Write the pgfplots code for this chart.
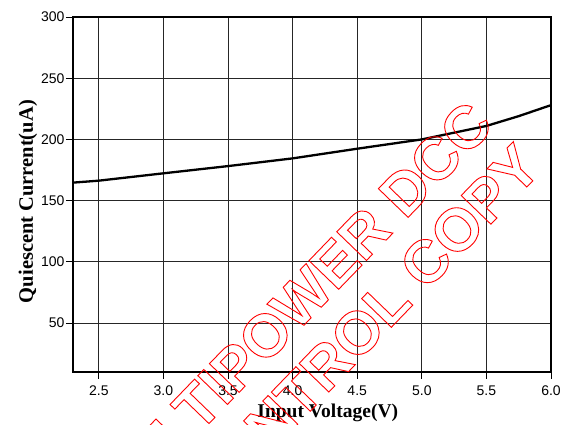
\documentclass[border=0pt]{standalone}
\usepackage{pgfplots}
\pgfplotsset{compat=1.18}
\usepackage{fontspec}
\setmainfont{Liberation Serif}
\newfontfamily\arialfont{Liberation Sans}
\begin{document}
\begin{tikzpicture}[x=1pt,y=1pt]
\useasboundingbox (0,0) rectangle (576,425);
\begin{axis}[
  scale only axis,
  width=478pt, height=355pt,
  at={(73pt,53pt)}, anchor=south west,
  xmin=2.3, xmax=6.0, ymin=10, ymax=300,
  xtick={2.5,3.0,3.5,4.0,4.5,5.0,5.5,6.0},
  ytick={50,100,150,200,250,300},
  xticklabel style={yshift=-3pt, /pgf/number format/fixed,
    /pgf/number format/fixed zerofill, /pgf/number format/precision=1},
  /pgf/number format/assume math mode=true,
  ticklabel style={font=\arialfont\fontsize{14}{14}\selectfont},
  yticklabel style={xshift=2pt},
  tick align=outside, major tick length=7pt,
  tick style={black, line width=0.8pt},
  xtick pos=bottom, ytick pos=left,
  grid=major,
  grid style={black!85, line width=0.8pt},
  axis line style={black, line width=1.4pt},
  xlabel={Input Voltage(V)},
  ylabel={Quiescent Current(uA)},
  xlabel style={font=\fontsize{19.5}{20}\selectfont\bfseries,
                at={(axis description cs:0.533,-0.127)}, anchor=base},
  ylabel style={font=\fontsize{20.5}{21}\selectfont\bfseries,
                at={(axis description cs:-0.0837,0.48)}, anchor=base},
]
\addplot[black, line width=2.3pt] coordinates {
(2.3,164.7) (2.5,166.3) (3.0,172.3) (3.5,178.2) (4.0,184.5) (4.5,192.4)
(5.0,200.0) (5.25,205.5) (5.5,211.0) (5.75,219.0) (6.0,228.0)
};
\end{axis}
\node[text=red, rotate=46, inner sep=0pt, line width=0.9pt,
      font=\arialfont\bfseries\fontsize{60}{60}\selectfont] at (289,114)
  {\special{pdf:literal direct 1 Tr}MULTIPOWER DCC\special{pdf:literal direct 0 Tr}};
\node[text=red, rotate=46, inner sep=0pt, line width=0.9pt,
      font=\arialfont\bfseries\fontsize{60}{60}\selectfont] at (361,96)
  {\special{pdf:literal direct 1 Tr}CONTROL COPY\special{pdf:literal direct 0 Tr}};
\end{tikzpicture}
\end{document}
